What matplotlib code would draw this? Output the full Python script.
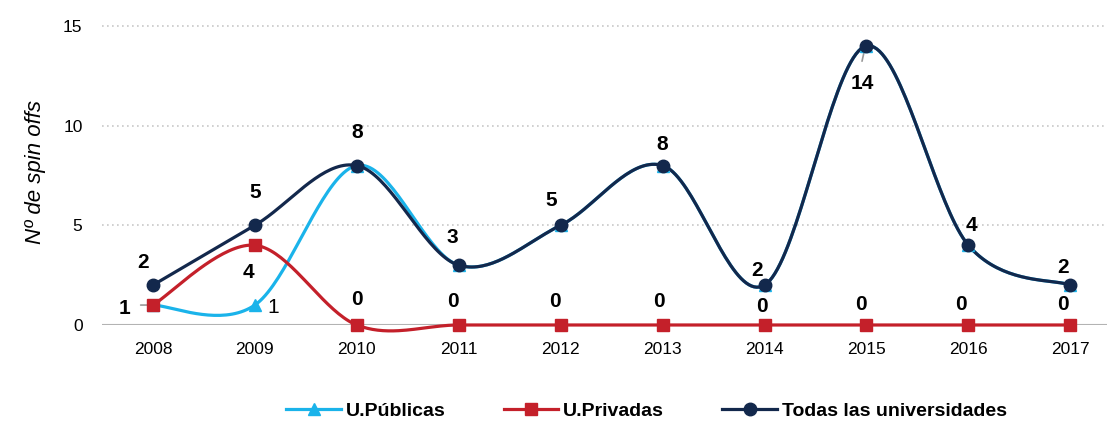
import numpy as np
import matplotlib
matplotlib.use("Agg")
import matplotlib.pyplot as plt

NAVY = "#13284c"
RED = "#c4202a"
CYAN = "#1ab3ea"
GRAY = "#b3b3b3"

FONT = ["Liberation Sans Narrow", "Liberation Sans", "DejaVu Sans"]

years = ["2008", "2009", "2010", "2011", "2012", "2013", "2014", "2015", "2016", "2017"]
publicas = [1, 1, 8, 3, 5, 8, 2, 14, 4, 2]
privadas = [1, 4, 0, 0, 0, 0, 0, 0, 0, 0]
todas = [2, 5, 8, 3, 5, 8, 2, 14, 4, 2]
yticks = [0, 5, 10, 15]

# label offsets in pixels (dx, dy) for each point
off_todas = [(-10, 23), (0, 33), (0, 33), (-6, 28), (-9, 25),
             (0, 21), (-7, 15), (-4, -38), (3, 20), (-7, 18)]
off_priv = [(-28, -3), (-6, -27), (0, 25), (-6, 23), (-6, 23),
            (-4, 23), (-3, 18), (-6, 20), (-7, 20), (-7, 20)]


def smooth(ys, n=40):
    # Excel-like smoothing: Bezier segments with Catmull-Rom control points
    x = np.arange(len(ys), dtype=float)
    y = np.asarray(ys, dtype=float)
    pts = np.column_stack([x, y])
    out = []
    t = np.linspace(0, 1, n)[:, None]
    for i in range(len(pts) - 1):
        p0 = pts[max(i - 1, 0)]
        p1 = pts[i]
        p2 = pts[i + 1]
        p3 = pts[min(i + 2, len(pts) - 1)]
        c1 = p1 + (p2 - p0) / 6
        c2 = p2 - (p3 - p1) / 6
        seg = ((1 - t) ** 3) * p1 + 3 * ((1 - t) ** 2) * t * c1 + 3 * (1 - t) * t ** 2 * c2 + t ** 3 * p2
        out.append(seg if i == 0 else seg[1:])
    seg = np.vstack(out)
    return seg[:, 0], seg[:, 1]


fig = plt.figure(figsize=(11.07, 4.23), dpi=100)
ax = fig.add_axes([0.0921, 0.2317, 0.9079, 0.7210])

x = np.arange(len(years))

for vals, col, mk, ms, lab in [(publicas, CYAN, "^", 9, "U.Públicas"),
                               (privadas, RED, "s", 9, "U.Privadas"),
                               (todas, NAVY, "o", 9, "Todas las universidades")]:
    sx, sy = smooth(vals)
    ax.plot(sx, sy, color=col, lw=2.3, clip_on=False, zorder=3)
    ax.plot(x, vals, linestyle="none", marker=mk, ms=ms, color=col, clip_on=False, zorder=4)
    ax.plot([], [], color=col, lw=2.3, marker=mk, ms=ms, label=lab)

for i, v in enumerate(todas):
    dx, dy = off_todas[i]
    ax.annotate(str(v), (x[i], v), xytext=(dx, dy), textcoords="offset pixels",
                ha="center", va="center", fontsize=15, fontweight="bold", family=FONT,
                annotation_clip=False, zorder=5)

for i, v in enumerate(privadas):
    dx, dy = off_priv[i]
    ax.annotate(str(v), (x[i], v), xytext=(dx, dy), textcoords="offset pixels",
                ha="center", va="center", fontsize=15, fontweight="bold", family=FONT,
                annotation_clip=False, zorder=5)

ax.annotate(str(publicas[1]), (x[1], publicas[1]), xytext=(18, -2), textcoords="offset pixels",
            ha="center", va="center", fontsize=15, family=FONT, annotation_clip=False)

# leader lines
ax.annotate("", (x[0] - 0.02, 1), xytext=(-13, 0), textcoords="offset pixels",
            arrowprops=dict(arrowstyle="-", color="#999999", lw=1.2), annotation_clip=False)
ax.annotate("", (x[7] - 0.01, 14), xytext=(-4, -18), textcoords="offset pixels",
            arrowprops=dict(arrowstyle="-", color="#999999", lw=1.2), annotation_clip=False)

ax.set_xlim(-0.5, 9.36)
ax.set_ylim(0, 15.3)
ax.set_xticks(x)
ax.set_xticklabels(years, fontsize=12.5, family=FONT)
ax.set_yticks(yticks)
ax.set_yticklabels([str(t) for t in yticks], fontsize=12.5, family=FONT)
ax.tick_params(length=0, pad=12)
ax.tick_params(axis="y", pad=14)

for t in yticks[1:]:
    ax.axhline(t, color="#c8c8c8", lw=1.2, linestyle=(0, (1, 2)), zorder=1)
ax.axhline(0, color=GRAY, lw=1.5, zorder=2)
for s in ax.spines.values():
    s.set_visible(False)

ax.set_ylabel("Nº de spin offs", fontsize=16, style="italic", family=FONT, labelpad=12)

leg = fig.legend(loc="lower center", bbox_to_anchor=(0.584, -0.035), ncol=3, frameon=False,
                 handlelength=2.8, columnspacing=3.0, handletextpad=0.25,
                 prop=dict(family=FONT, size=14, weight="bold"))

fig.savefig("out.png", dpi=100)
plt.close()
